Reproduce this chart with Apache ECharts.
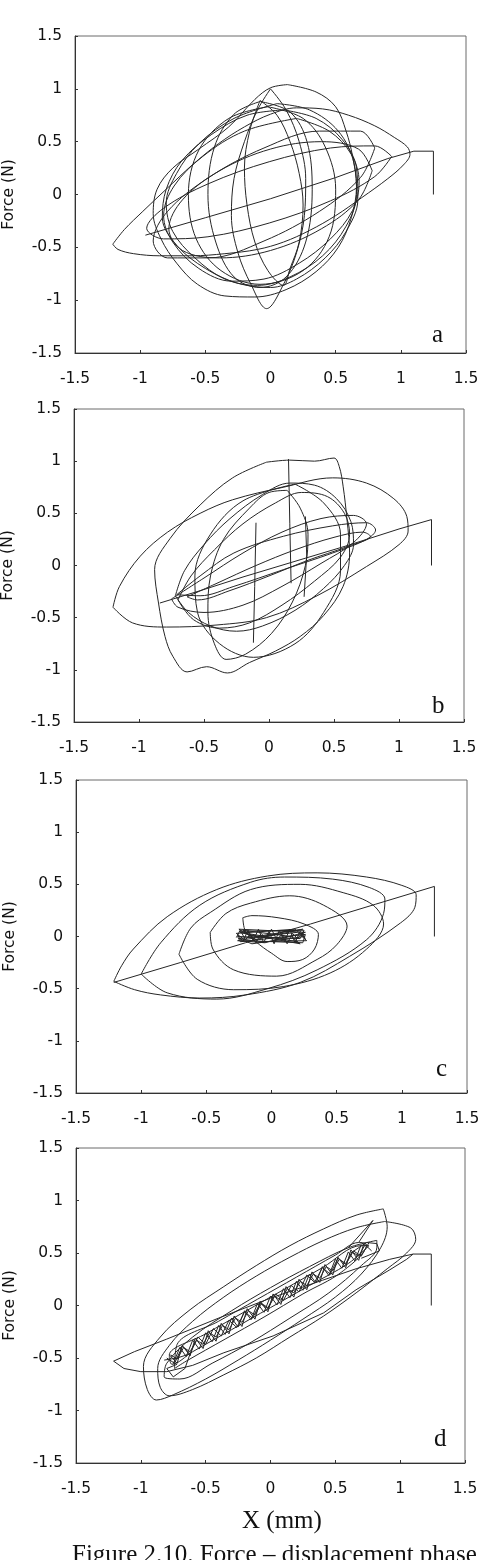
<!DOCTYPE html>
<html><head><meta charset="utf-8">
<script src="https://cdn.jsdelivr.net/npm/echarts@6/dist/echarts.min.js"></script>
<style>html,body{margin:0;padding:0;background:#fff}#c{width:484px;height:1560px}</style>
</head><body><div id="c"></div>
<script>
// ---- axis / labels ----
const axisMin = -1.5, axisMax = 1.5, axisStep = 0.5;
const panelLetters = ['a', 'b', 'c', 'd'];
const yName = 'Force (N)';
const xName = 'X (mm)';
const caption = 'Figure 2.10. Force \u2013 displacement phase';

// ---- panel a ----
const a_start = [[1.25,0],[1.25,0.41],[1.1,0.41],[0.9,0.34],[0.5,0.16],[0,-0.04],[-0.5,-0.22],[-0.96,-0.385]];
const a_wide = [[-1.21,-0.47],[-1.12,-0.33],[-0.98,-0.16],[-0.8,0.05],[-0.6,0.28],[-0.4,0.48],[-0.2,0.64],[0,0.76],[0.2,0.82],[0.4,0.81],[0.6,0.75],[0.8,0.65],[0.95,0.54],[1.05,0.45],[1.07,0.38],[1.02,0.28],[0.9,0.15],[0.7,-0.03],[0.5,-0.2],[0.3,-0.34],[0.1,-0.45],[-0.1,-0.52],[-0.35,-0.56],[-0.6,-0.58],[-0.85,-0.58],[-1.05,-0.56],[-1.17,-0.52],[-1.21,-0.47]];
const a_circle = [[0.13,1.04],[0.35,0.97],[0.5,0.83],[0.58,0.6],[0.63,0.36],[0.66,0.08],[0.62,-0.22],[0.52,-0.5],[0.35,-0.73],[0.12,-0.9],[-0.12,-0.97],[-0.35,-0.96],[-0.56,-0.85],[-0.72,-0.65],[-0.84,-0.42],[-0.9,-0.18],[-0.87,0.05],[-0.75,0.25],[-0.55,0.43],[-0.32,0.64],[-0.12,0.9],[0,1.01],[0.13,1.04]];
const a_m1 = [[0.1,0.8],[0.35,0.72],[0.55,0.52],[0.66,0.25],[0.67,-0.05],[0.58,-0.35],[0.42,-0.6],[0.2,-0.8],[0,-0.88],[-0.25,-0.84],[-0.5,-0.7],[-0.72,-0.48],[-0.83,-0.22],[-0.8,0.05],[-0.68,0.32],[-0.45,0.57],[-0.18,0.75],[0.1,0.8]];
const a_m2 = [[0.2,0.72],[0.45,0.6],[0.62,0.38],[0.68,0.12],[0.63,-0.15],[0.46,-0.42],[0.22,-0.65],[-0.05,-0.8],[-0.3,-0.82],[-0.55,-0.7],[-0.75,-0.45],[-0.82,-0.2],[-0.74,0.08],[-0.52,0.36],[-0.2,0.6],[0.2,0.72]];
const a_m3 = [[0.05,0.86],[0.3,0.8],[0.52,0.6],[0.64,0.3],[0.66,0],[0.58,-0.3],[0.4,-0.58],[0.15,-0.78],[-0.1,-0.86],[-0.35,-0.8],[-0.58,-0.6],[-0.75,-0.35],[-0.8,-0.08],[-0.72,0.2],[-0.55,0.48],[-0.28,0.72],[0.05,0.86]];
const a_l1 = [[0,1.0],[0.12,0.8],[0.22,0.5],[0.27,0.15],[0.26,-0.2],[0.2,-0.55],[0.1,-0.85],[-0.03,-1.08],[-0.15,-0.85],[-0.25,-0.55],[-0.3,-0.2],[-0.28,0.15],[-0.2,0.5],[-0.1,0.8],[0,1.0]];
const a_l2 = [[-0.08,0.89],[0.05,0.75],[0.15,0.5],[0.22,0.2],[0.25,-0.1],[0.22,-0.45],[0.15,-0.7],[0.1,-0.86],[-0.02,-0.72],[-0.12,-0.45],[-0.18,-0.1],[-0.2,0.25],[-0.16,0.6],[-0.08,0.89]];
const a_v1 = [[-0.02,0.83],[0.25,0.72],[0.42,0.45],[0.5,0.05],[0.45,-0.4],[0.25,-0.72],[-0.08,-0.85],[-0.38,-0.72],[-0.57,-0.42],[-0.63,0],[-0.55,0.42],[-0.32,0.72],[-0.02,0.83]];
const a_v2 = [[-0.08,0.88],[0.15,0.78],[0.28,0.5],[0.32,0.05],[0.27,-0.45],[0.12,-0.78],[-0.08,-0.88],[-0.28,-0.78],[-0.42,-0.45],[-0.48,0],[-0.43,0.45],[-0.28,0.76],[-0.08,0.88]];
const a_h1 = [[0.93,0.36],[0.8,0.46],[0.46,0.44],[-0.01,0.31],[-0.48,0.1],[-0.82,-0.13],[-0.95,-0.32],[-0.82,-0.42],[-0.48,-0.4],[-0.01,-0.27],[0.46,-0.06],[0.8,0.17],[0.93,0.36]];
const a_h2 = [[0.8,0.44],[0.69,0.6],[0.375,0.6],[-0.05,0.44],[-0.475,0.16],[-0.79,-0.16],[-0.9,-0.44],[-0.79,-0.6],[-0.475,-0.6],[-0.05,-0.44],[0.375,-0.16],[0.69,0.16],[0.8,0.44]];
const a_h3 = [[0.78,0.225],[0.675,0.43],[0.39,0.5],[0,0.43],[-0.39,0.225],[-0.675,-0.05],[-0.78,-0.325],[-0.675,-0.53],[-0.39,-0.6],[0,-0.53],[0.39,-0.325],[0.675,-0.05],[0.78,0.225]];

// ---- panel b ----
const b_start = [[1.25,0],[1.25,0.44],[1.0,0.35],[0.6,0.19],[0.2,0.04],[-0.2,-0.11],[-0.5,-0.23],[-0.84,-0.36]];
const b_wide = [[-1.2,-0.4],[-1.15,-0.2],[-0.99,0.09],[-0.78,0.32],[-0.53,0.5],[-0.28,0.63],[0.11,0.75],[0.49,0.84],[0.75,0.79],[0.96,0.64],[1.06,0.47],[1.07,0.33],[1.0,0.2],[0.75,-0.01],[0.37,-0.29],[-0.02,-0.5],[-0.4,-0.57],[-0.79,-0.59],[-1.05,-0.55],[-1.2,-0.4]];
const b_outer = [[-0.02,0.99],[0.16,1.01],[0.35,1.0],[0.5,1.03],[0.54,0.95],[0.57,0.76],[0.6,0.44],[0.62,0.12],[0.57,-0.2],[0.42,-0.48],[0.24,-0.68],[0.05,-0.82],[-0.15,-0.93],[-0.32,-1.03],[-0.48,-0.97],[-0.63,-1.02],[-0.74,-0.87],[-0.8,-0.68],[-0.85,-0.36],[-0.88,-0.04],[-0.76,0.26],[-0.53,0.58],[-0.28,0.84],[-0.02,0.99]];
const b_m1 = [[-0.72,-0.29],[-0.65,-0.05],[-0.5,0.2],[-0.3,0.45],[-0.05,0.68],[0.16,0.79],[0.35,0.77],[0.52,0.64],[0.63,0.42],[0.65,0.2],[0.58,0],[0.42,-0.22],[0.2,-0.43],[-0.05,-0.58],[-0.25,-0.63],[-0.45,-0.58],[-0.62,-0.45],[-0.72,-0.29]];
const b_m2 = [[-0.7,-0.33],[-0.6,-0.1],[-0.42,0.15],[-0.2,0.4],[0.05,0.6],[0.25,0.7],[0.45,0.66],[0.58,0.5],[0.62,0.3],[0.55,0.08],[0.35,-0.15],[0.1,-0.38],[-0.15,-0.55],[-0.38,-0.6],[-0.58,-0.52],[-0.7,-0.33]];
const b_f1 = [[-0.71,-0.28],[-0.53,-0.1],[-0.27,0.12],[0.11,0.28],[0.49,0.38],[0.75,0.41],[0.82,0.34],[0.75,0.25],[0.49,0.12],[0.11,-0.04],[-0.27,-0.2],[-0.53,-0.29],[-0.71,-0.28]];
const b_f2 = [[-0.63,-0.3],[-0.4,-0.17],[-0.1,0],[0.2,0.15],[0.5,0.27],[0.72,0.32],[0.78,0.28],[0.6,0.18],[0.3,0.05],[0,-0.1],[-0.3,-0.24],[-0.55,-0.33],[-0.63,-0.3]];
const b_f3 = [[-0.75,-0.32],[-0.5,-0.12],[-0.2,0.12],[0.1,0.32],[0.4,0.45],[0.65,0.48],[0.75,0.4],[0.65,0.22],[0.4,0.02],[0.1,-0.2],[-0.2,-0.38],[-0.5,-0.45],[-0.7,-0.4],[-0.75,-0.32]];
const b_t1 = [[0.14,0.72],[0.24,0.55],[0.3,0.3],[0.28,0],[0.18,-0.35],[0.02,-0.65],[-0.18,-0.85],[-0.33,-0.9],[-0.42,-0.75],[-0.47,-0.45],[-0.45,-0.1],[-0.35,0.25],[-0.15,0.55],[0,0.7],[0.14,0.72]];
const b_t2 = [[0.2,0.78],[0.42,0.6],[0.55,0.3],[0.55,-0.05],[0.42,-0.45],[0.2,-0.75],[-0.12,-0.88],[-0.38,-0.75],[-0.55,-0.45],[-0.57,-0.1],[-0.45,0.3],[-0.2,0.62],[0.2,0.78]];
const b_s1 = [[0.15,1.02],[0.16,0.4],[0.17,-0.17]];
const b_s2 = [[-0.1,0.41],[-0.11,-0.2],[-0.12,-0.74]];
const b_s3 = [[0.28,0.47],[0.29,0.1],[0.27,-0.3]];

// ---- panel c ----
const c_start = [[1.25,0],[1.25,0.48],[0.8,0.31],[0.3,0.12],[-0.2,-0.06],[-0.7,-0.25],[-1.21,-0.44]];
const c_wide = [[-1.21,-0.43],[-1.15,-0.28],[-1.06,-0.12],[-0.8,0.19],[-0.42,0.45],[-0.03,0.58],[0.35,0.61],[0.73,0.57],[1.0,0.49],[1.11,0.4],[1.1,0.28],[0.99,0.13],[0.6,-0.19],[0.22,-0.44],[-0.2,-0.56],[-0.55,-0.59],[-0.85,-0.56],[-1.05,-0.51],[-1.21,-0.43]];
const c_e2 = [[-1.0,-0.36],[-0.85,-0.06],[-0.55,0.3],[-0.16,0.52],[0.1,0.57],[0.47,0.55],[0.75,0.47],[0.87,0.36],[0.86,0.22],[0.73,-0.03],[0.35,-0.32],[-0.03,-0.5],[-0.42,-0.6],[-0.8,-0.54],[-1.0,-0.36]];
const c_e3 = [[-0.71,-0.17],[-0.62,0.08],[-0.47,0.23],[-0.16,0.45],[0.22,0.5],[0.55,0.42],[0.78,0.3],[0.86,0.12],[0.73,-0.12],[0.45,-0.35],[0.09,-0.48],[-0.29,-0.51],[-0.57,-0.41],[-0.71,-0.17]];
const c_e4 = [[-0.47,0.04],[-0.35,0.22],[-0.16,0.32],[0.14,0.39],[0.4,0.3],[0.58,0.1],[0.5,-0.08],[0.35,-0.22],[0.04,-0.38],[-0.29,-0.32],[-0.45,-0.12],[-0.47,0.04]];
const c_e5 = [[-0.22,0.18],[-0.15,0.2],[0.05,0.18],[0.25,0.12],[0.36,0.02],[0.33,-0.12],[0.24,-0.22],[0.12,-0.24],[0,-0.16],[-0.12,-0.05],[-0.2,0.05],[-0.22,0.18]];
const c_core = [[-0.25,0.05],[0.25,0.06],[0.22,-0.02],[-0.26,0],[-0.24,-0.05],[0.26,0.02],[0.24,-0.06],[-0.2,-0.04],[-0.27,0.03],[0.18,0.07],[0.25,0],[-0.15,-0.07],[-0.25,-0.02],[0.2,0.04],[0.27,-0.04],[-0.1,-0.05],[-0.22,0.06],[0.15,0],[0.22,-0.07],[-0.18,0.02],[-0.25,0.07],[0.1,0.05],[0.26,0.04],[-0.05,-0.06],[-0.26,-0.04],[0.05,0.02],[0.24,0.07],[-0.12,0],[-0.24,0.04],[0.2,-0.05]];
const c_core2 = [[-0.26,0.02],[-0.22,-0.05],[-0.18,0.06],[-0.14,-0.04],[-0.1,0.07],[-0.06,-0.06],[-0.02,0.05],[0.02,-0.07],[0.06,0.06],[0.1,-0.05],[0.14,0.07],[0.18,-0.06],[0.22,0.05],[0.26,-0.03],[0.24,0.04],[0.2,-0.02],[0.16,0.03],[0.12,-0.07],[0.08,0.02],[0.04,-0.03],[0,0.07],[-0.04,-0.02],[-0.08,0.03],[-0.12,-0.06],[-0.16,0.02],[-0.2,-0.03],[-0.24,0.06],[-0.27,-0.01]];

// ---- panel d ----
const d_start = [[1.24,0],[1.24,0.49],[1.1,0.49],[0.92,0.44],[0.66,0.35],[0.4,0.24],[0,0.07],[-0.4,-0.12],[-0.8,-0.32],[-1.05,-0.44],[-1.21,-0.53]];
const d_wide = [[-1.21,-0.53],[-1.13,-0.6],[-1.0,-0.63],[-0.8,-0.63],[-0.6,-0.57],[-0.36,-0.45],[0.02,-0.29],[0.41,-0.07],[0.66,0.15],[0.92,0.34],[1.05,0.44],[1.1,0.49]];
const d_e1 = [[0.87,0.92],[0.66,0.86],[0.41,0.73],[0.15,0.57],[-0.11,0.38],[-0.36,0.18],[-0.62,-0.04],[-0.85,-0.3],[-0.98,-0.58],[-0.95,-0.8],[-0.88,-0.9],[-0.75,-0.85],[-0.5,-0.7],[-0.25,-0.52],[0,-0.33],[0.25,-0.13],[0.5,0.08],[0.7,0.3],[0.85,0.55],[0.9,0.75],[0.87,0.92]];
const d_e2 = [[0.88,0.8],[0.66,0.74],[0.41,0.62],[0.15,0.46],[-0.11,0.28],[-0.36,0.08],[-0.6,-0.15],[-0.78,-0.38],[-0.87,-0.6],[-0.85,-0.78],[-0.78,-0.86],[-0.6,-0.8],[-0.36,-0.66],[-0.11,-0.5],[0.15,-0.3],[0.41,-0.1],[0.66,0.12],[0.9,0.35],[1.05,0.5],[1.12,0.63],[1.08,0.74],[0.88,0.8]];
const d_e3 = [[0.82,0.62],[0.6,0.55],[0.3,0.37],[0,0.17],[-0.3,-0.05],[-0.6,-0.3],[-0.8,-0.55],[-0.82,-0.68],[-0.7,-0.7],[-0.45,-0.55],[-0.15,-0.35],[0.15,-0.12],[0.45,0.12],[0.7,0.38],[0.82,0.55],[0.82,0.62]];
const d_n1 = [[-0.78,-0.5],[-0.78,-0.47],[-0.5,-0.27],[-0.2,-0.06],[0.1,0.15],[0.4,0.36],[0.7,0.57],[0.76,0.57],[0.6,0.4],[0.3,0.19],[0,-0.02],[-0.3,-0.23],[-0.6,-0.44],[-0.76,-0.56],[-0.78,-0.5]];
const d_n2 = [[-0.74,-0.6],[-0.72,-0.37],[-0.4,-0.15],[-0.1,0.06],[0.2,0.27],[0.5,0.48],[0.68,0.6],[0.74,0.58],[0.55,0.32],[0.25,0.11],[-0.05,-0.11],[-0.35,-0.32],[-0.65,-0.53],[-0.74,-0.6]];
const d_z1 = [[-0.75,-0.555],[-0.7,-0.4],[-0.65,-0.485],[-0.6,-0.33],[-0.55,-0.415],[-0.5,-0.26],[-0.45,-0.345],[-0.4,-0.19],[-0.35,-0.275],[-0.3,-0.12],[-0.25,-0.205],[-0.2,-0.05],[-0.15,-0.135],[-0.1,0.02],[-0.05,-0.065],[0,0.09],[0.05,0.005],[0.1,0.16],[0.15,0.075],[0.2,0.23],[0.25,0.145],[0.3,0.3],[0.35,0.215],[0.4,0.37],[0.45,0.285],[0.5,0.44],[0.55,0.355],[0.6,0.51],[0.65,0.425],[0.7,0.58]];
const d_z2 = [[-0.78,-0.47],[-0.72,-0.55],[-0.68,-0.38],[-0.62,-0.48],[-0.58,-0.31],[-0.52,-0.41],[-0.48,-0.24],[-0.42,-0.34],[-0.38,-0.17],[-0.32,-0.27],[-0.28,-0.1],[-0.22,-0.2],[-0.18,-0.03],[-0.12,-0.13],[-0.08,0.04],[-0.02,-0.06],[0.02,0.11],[0.08,0.01],[0.12,0.18],[0.18,0.08],[0.22,0.25],[0.28,0.15],[0.32,0.32],[0.38,0.22],[0.42,0.39],[0.48,0.29],[0.52,0.46],[0.58,0.36],[0.62,0.53],[0.68,0.43],[0.72,0.59],[0.78,0.52]];
const d_z3 = [[0.76,0.6],[0.7,0.47],[0.64,0.52],[0.58,0.39],[0.52,0.45],[0.46,0.3],[0.4,0.36],[0.34,0.22],[0.28,0.29],[0.22,0.13],[0.16,0.19],[0.1,0.05],[0.04,0.11],[-0.02,-0.03],[-0.08,0.02],[-0.14,-0.12],[-0.2,-0.06],[-0.26,-0.21],[-0.32,-0.14],[-0.38,-0.29],[-0.44,-0.22],[-0.5,-0.37],[-0.56,-0.3],[-0.62,-0.46],[-0.68,-0.39],[-0.74,-0.55],[-0.8,-0.5]];
const d_z4 = [[-0.77,-0.47],[-0.72,-0.51],[-0.67,-0.4],[-0.62,-0.44],[-0.57,-0.33],[-0.52,-0.37],[-0.47,-0.26],[-0.42,-0.3],[-0.37,-0.19],[-0.32,-0.23],[-0.27,-0.12],[-0.22,-0.16],[-0.17,-0.05],[-0.12,-0.09],[-0.07,0.02],[-0.02,-0.02],[0.03,0.09],[0.08,0.05],[0.13,0.16],[0.18,0.12],[0.23,0.23],[0.28,0.19],[0.33,0.3],[0.38,0.26],[0.43,0.37],[0.48,0.33],[0.53,0.44],[0.58,0.4],[0.63,0.51],[0.68,0.47],[0.73,0.58]];
const d_spike = [[0.6,0.55],[0.79,0.81],[0.68,0.6]];
const d_box = [[0.62,0.5],[0.74,0.6],[0.82,0.59],[0.84,0.52],[0.7,0.45]];
const d_knot = [[-0.82,-0.52],[-0.72,-0.5],[-0.62,-0.46],[-0.66,-0.6],[-0.75,-0.68],[-0.8,-0.6],[-0.72,-0.56]];

const panelLoops = [
  [a_wide, a_circle, a_m1, a_m2, a_m3, a_l1, a_l2, a_v1, a_v2, a_h1, a_h2, a_h3],
  [b_wide, b_outer, b_m1, b_m2, b_f1, b_f2, b_f3, b_t1, b_t2],
  [c_wide, c_e2, c_e3, c_e4, c_e5],
  [d_e1, d_e2, d_e3, d_n1, d_n2]
];
const panelTraces = [
  [a_start],
  [b_start, b_s1, b_s2, b_s3],
  [c_start, c_core, c_core2],
  [d_start, d_wide, d_z1, d_z2, d_z3, d_z4, d_spike, d_box, d_knot]
];

// ---- layout (pixels) ----
const grids = [
  {left: 75, top: 36, width: 391, height: 317},
  {left: 74, top: 409, width: 390, height: 313},
  {left: 76, top: 780, width: 391, height: 313},
  {left: 76, top: 1148, width: 389, height: 315}
];
const letterPos = [[432, 323], [432, 694], [436, 1057], [434, 1427]];

const sansFont = 'DejaVu Sans';
const serifFont = 'Liberation Serif';
const lineColor = '#262626';

const chart = echarts.init(document.getElementById('c'), null, {renderer: 'canvas'});
const option = {
  animation: false,
  backgroundColor: '#fff',
  grid: grids.map(g => Object.assign({show: true, borderColor: '#6a6a6a', borderWidth: 1, backgroundColor: 'transparent', containLabel: false, outerBoundsMode: 'none'}, g)),
  xAxis: grids.map((g, i) => ({
    type: 'value', gridIndex: i, min: axisMin, max: axisMax, interval: axisStep,
    axisLine: {show: true, onZero: false, lineStyle: {color: '#333', width: 1}},
    axisTick: {show: true, inside: true, length: 3, lineStyle: {color: '#333'}},
    splitLine: {show: false},
    axisLabel: {show: true, margin: 18, fontFamily: sansFont, fontSize: 15.5, color: '#111', showMinLabel: true, showMaxLabel: true}
  })),
  yAxis: grids.map((g, i) => ({
    type: 'value', gridIndex: i, min: axisMin, max: axisMax, interval: axisStep,
    name: yName, nameLocation: 'middle', nameGap: 58,
    nameTextStyle: {fontFamily: sansFont, fontSize: 15.5, color: '#111'},
    axisLine: {show: true, onZero: false, lineStyle: {color: '#333', width: 1}},
    axisTick: {show: true, inside: true, length: 3, lineStyle: {color: '#333'}},
    splitLine: {show: false},
    axisLabel: {show: true, margin: 13, fontFamily: sansFont, fontSize: 15.5, color: '#111', showMinLabel: true, showMaxLabel: true}
  })),
  series: [],
  graphic: []
};

panelLoops.forEach((loops, i) => loops.forEach(d => option.series.push({
  type: 'line', xAxisIndex: i, yAxisIndex: i, data: d, showSymbol: false, symbol: 'none',
  smooth: 0.35, silent: true, lineStyle: {color: lineColor, width: 1}
})));
panelTraces.forEach((tr, i) => tr.forEach(d => option.series.push({
  type: 'line', xAxisIndex: i, yAxisIndex: i, data: d, showSymbol: false, symbol: 'none',
  smooth: false, silent: true, lineStyle: {color: lineColor, width: 1}
})));

panelLetters.forEach((t, i) => option.graphic.push({
  type: 'text', left: letterPos[i][0], top: letterPos[i][1], silent: true,
  style: {text: t, font: '25px "' + serifFont + '"', fill: '#111'}
}));
option.graphic.push({
  type: 'text', left: 242, top: 1509, silent: true,
  style: {text: xName, font: '25px "' + serifFont + '"', fill: '#111'}
});
option.graphic.push({
  type: 'text', left: 72, top: 1543, silent: true,
  style: {text: caption, font: '25px "' + serifFont + '"', fill: '#111'}
});

chart.setOption(option);
</script>
</body></html>
